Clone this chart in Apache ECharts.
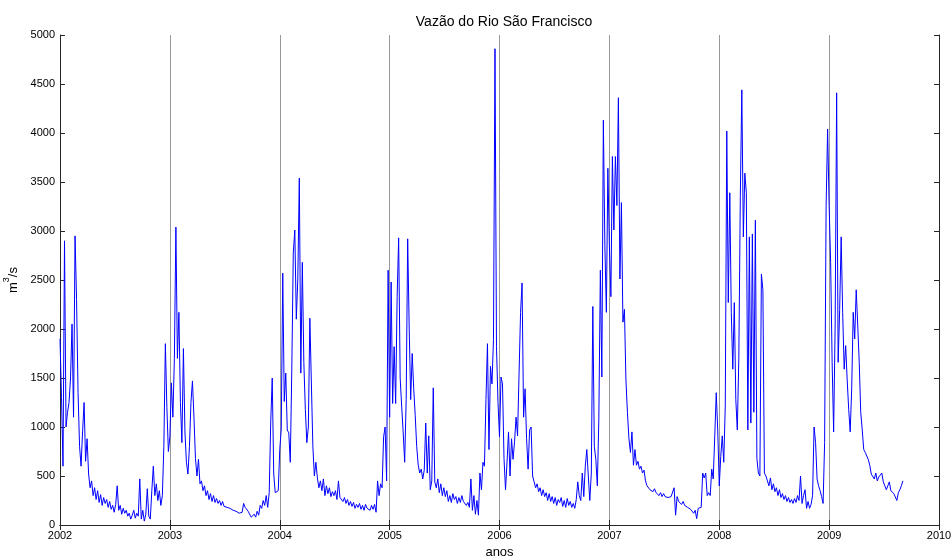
<!DOCTYPE html>
<html>
<head>
<meta charset="utf-8">
<script src="https://cdn.jsdelivr.net/npm/echarts@6/dist/echarts.min.js"></script>
<style>
    html, body { margin: 0; padding: 0; background: #fff; }
    #chart { width: 952px; height: 558px; }
</style>
</head>
<body>
<div id="chart"></div>
<script>
// vazão (m3/s), one value every 5 days, 73 values per year
const years = [2002, 2003, 2004, 2005, 2006, 2007, 2008, 2009];
const stepsPerYear = 73;

const flow2002 = [1900, 1300, 600, 2900, 1000, 1150, 1250, 1500, 2050, 1100, 2950, 2300, 1350, 800, 600, 950, 1250, 650, 880, 520,
    380, 450, 300, 380, 260, 350, 230, 310, 200, 280, 220, 260, 180, 240, 160, 200, 130, 210, 400, 150,
    200, 110, 170, 120, 150, 90, 120, 60, 100, 150, 70, 120, 90, 470, 60, 150, 40, 110, 370, 90,
    60, 350, 600, 300, 420, 250, 350, 200, 300, 800, 1850, 1200, 750];
const flow2003 = [900, 1450, 1100, 1700, 3040, 1700, 2170, 1250, 840, 1800, 950, 640, 520, 800, 1250, 1470, 1100, 680, 500, 670,
    420, 450, 350, 400, 300, 350, 260, 320, 240, 300, 230, 270, 220, 250, 200, 240, 190, 210, 180, 200,
    170, 180, 150, 160, 140, 150, 120, 110, 130, 220, 180, 200, 140, 120, 80, 60, 110, 80, 140, 100,
    200, 170, 250, 200, 300, 180, 330, 1050, 1500, 520, 330, 320, 350];
const flow2004 = [770, 980, 2570, 1260, 1550, 970, 940, 640, 1580, 2775, 3010, 2100, 2510, 3540, 1550, 2680, 1660, 1180, 840, 1000,
    2110, 2090, 800, 500, 640, 480, 380, 450, 350, 470, 300, 400, 320, 380, 290, 340, 300, 350, 260, 450,
    280, 300, 240, 280, 220, 260, 200, 240, 190, 230, 170, 210, 180, 220, 160, 200, 150, 210, 170, 190,
    150, 200, 160, 210, 130, 450, 300, 420, 380, 900, 1000, 450, 2600];
const flow2005 = [1100, 2480, 1240, 1820, 1240, 2330, 2930, 1500, 1215, 950, 640, 1280, 2920, 2010, 1280, 1750, 1390, 1120, 800, 610,
    530, 570, 470, 560, 1040, 530, 910, 360, 450, 1400, 440, 380, 470, 330, 420, 300, 380, 290, 350, 240,
    300, 230, 320, 260, 290, 220, 280, 230, 300, 240, 260, 200, 230, 180, 470, 150, 300, 110, 250, 100,
    530, 360, 640, 600, 1280, 1850, 770, 1620, 1440, 1890, 4860, 1820, 1250];
const flow2006 = [900, 1510, 1440, 680, 360, 640, 950, 500, 880, 670, 850, 1100, 910, 1550, 2170, 2470, 1100, 1390, 880, 570,
    970, 1000, 500, 440, 380, 420, 340, 380, 300, 360, 290, 330, 250, 320, 240, 290, 220, 280, 200, 260,
    230, 280, 190, 250, 180, 270, 200, 240, 180, 220, 170, 260, 440, 300, 250, 530, 290, 600, 770, 500,
    250, 530, 2230, 800, 670, 400, 1080, 2600, 1510, 4130, 2850, 2170, 3640];
const flow2007 = [2850, 2330, 3760, 3010, 3760, 3260, 4360, 2510, 3290, 2070, 2200, 1480, 1150, 880, 740, 950, 610, 770, 610, 650,
    570, 600, 530, 560, 450, 400, 420, 360, 380, 340, 370, 330, 350, 300, 330, 290, 320, 290, 310, 280,
    300, 290, 310, 380, 100, 290, 240, 260, 210, 240, 200, 220, 180, 200, 160, 180, 120, 150, 65, 170,
    160, 180, 530, 480, 530, 300, 330, 300, 570, 470, 900, 1350, 970];
const flow2008 = [400, 700, 910, 640, 1215, 4020, 2270, 3390, 2170, 1590, 2270, 1280, 970, 1700, 3350, 4440, 2940, 3590, 3390, 970,
    2940, 1040, 2970, 1150, 3110, 680, 530, 500, 2560, 2400, 530, 500, 450, 400, 480, 360, 420, 340, 380, 300,
    360, 280, 320, 260, 300, 240, 280, 230, 260, 220, 270, 230, 300, 250, 500, 220, 300, 360, 170, 240,
    170, 210, 300, 1000, 840, 470, 400, 350, 290, 220, 840, 3260, 4040];
const flow2009 = [3260, 2680, 1660, 950, 2040, 4410, 1660, 2200, 2940, 2170, 1590, 1830, 1480, 1180, 950, 1390, 2170, 1900, 2400, 2040,
    1660, 1150, 970, 770, 740, 740, 670, 610, 520, 530, 470, 530, 450, 490, 480, 530, 440, 440, 360, 400,
    440, 350, 330, 320, 300, 250, 330, 360, 400, 450];

const flowByYear = [flow2002, flow2003, flow2004, flow2005, flow2006, flow2007, flow2008, flow2009];

const yTicks = { min: 0, max: 5000, interval: 500 };
const xTicks = { min: 2002, max: 2010, interval: 1 };

const seriesData = [];
years.forEach(function (year, k) {
    flowByYear[k].forEach(function (v, i) {
        seriesData.push([year + i / stepsPerYear, v]);
    });
});

const chart = echarts.init(document.getElementById("chart"), null, { renderer: "canvas" });

const axisColor = "#262626";
const labelFont = "Liberation Sans, Arial, sans-serif";

const option = {
    animation: false,
    backgroundColor: "#ffffff",
    title: {
        text: "Vazão do Rio São Francisco",
        left: 499,
        textAlign: "center",
        top: 10,
        textStyle: { fontFamily: labelFont, fontSize: 14, fontWeight: "normal", color: "#000" }
    },
    grid: { left: 60, right: 13, top: 35, bottom: 33, containLabel: false, outerBoundsMode: "none" },
    xAxis: [
        {
            type: "value",
            min: xTicks.min,
            max: xTicks.max,
            interval: xTicks.interval,
            name: "anos",
            nameLocation: "middle",
            nameGap: 18,
            nameTextStyle: { fontFamily: labelFont, fontSize: 13, color: "#000" },
            axisLine: { show: true, lineStyle: { color: axisColor, width: 1 } },
            axisTick: { show: true, inside: true, length: 5, lineStyle: { color: axisColor } },
            axisLabel: { fontFamily: labelFont, fontSize: 11, color: "#000", margin: 5, formatter: function (v) { return String(v); } },
            splitLine: { show: true, lineStyle: { color: "#999999", width: 1 } }
        },
        {
            type: "value",
            position: "top",
            min: xTicks.min,
            max: xTicks.max,
            interval: xTicks.interval,
            axisLine: { show: true, lineStyle: { color: axisColor, width: 1 } },
            axisTick: { show: true, inside: true, length: 5, lineStyle: { color: axisColor } },
            axisLabel: { show: false },
            splitLine: { show: false }
        }
    ],
    yAxis: [
        {
            type: "value",
            min: yTicks.min,
            max: yTicks.max,
            interval: yTicks.interval,
            name: "{a|m}{s|3}{a|/s}",
            nameLocation: "middle",
            nameGap: 38,
            nameRotate: 90,
            nameTextStyle: {
                fontFamily: labelFont,
                fontSize: 13,
                color: "#000",
                rich: {
                    a: { fontFamily: labelFont, fontSize: 13, color: "#000", lineHeight: 18, verticalAlign: "bottom" },
                    s: { fontFamily: labelFont, fontSize: 9, color: "#000", lineHeight: 18, verticalAlign: "top" }
                }
            },
            axisLine: { show: true, lineStyle: { color: axisColor, width: 1 } },
            axisTick: { show: true, inside: true, length: 5, lineStyle: { color: axisColor } },
            axisLabel: { fontFamily: labelFont, fontSize: 11, color: "#000", margin: 5, formatter: function (v) { return String(v); } },
            splitLine: { show: false }
        },
        {
            type: "value",
            position: "right",
            min: yTicks.min,
            max: yTicks.max,
            interval: yTicks.interval,
            axisLine: { show: true, lineStyle: { color: axisColor, width: 1 } },
            axisTick: { show: true, inside: true, length: 5, lineStyle: { color: axisColor } },
            axisLabel: { show: false },
            splitLine: { show: false }
        }
    ],
    series: [
        {
            name: "Vazão",
            type: "line",
            data: seriesData,
            showSymbol: false,
            symbol: "none",
            lineStyle: { color: "#0000ff", width: 1 },
            z: 3
        }
    ]
};

chart.setOption(option);
</script>
</body>
</html>
